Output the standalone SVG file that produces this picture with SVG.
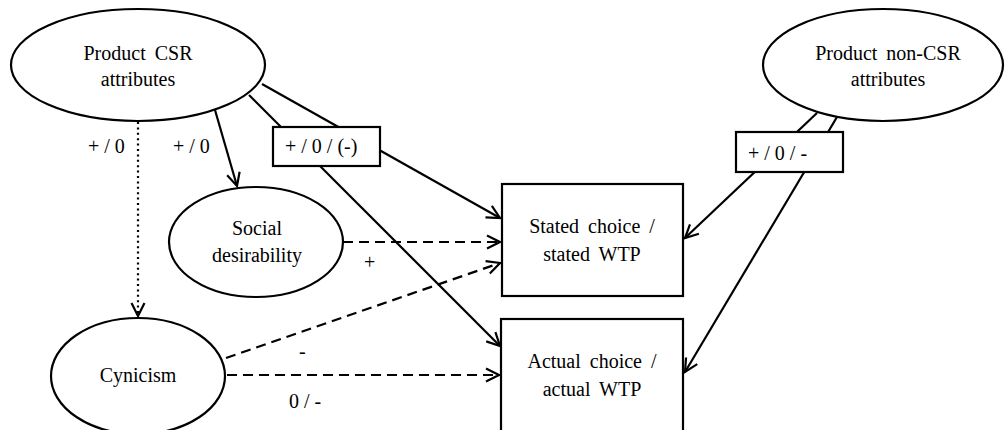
<svg xmlns="http://www.w3.org/2000/svg" width="1005" height="430" viewBox="0 0 1005 430">
<style>
.n{fill:#fff;stroke:#000;stroke-width:2.2}
.t{font-family:'Liberation Serif','Times New Roman',Times,serif;font-size:20px;fill:#000;text-anchor:middle;word-spacing:4px}
.l{font-family:'Liberation Serif','Times New Roman',Times,serif;font-size:20px;fill:#000}
.c{fill:none;stroke:#000;stroke-width:2.2}
.dash{stroke-dasharray:10,6}
.dot{stroke-dasharray:2,3.4}
</style>
<defs>
<marker id="arr" markerUnits="userSpaceOnUse" markerWidth="16" markerHeight="16" viewBox="-14 -8 16 16" refX="0" refY="0" orient="auto">
<path d="M-13,-6.5 L0,0 L-13,6.5" fill="none" stroke="#000" stroke-width="2.2"/>
</marker>
</defs>
<rect width="1005" height="430" fill="#fff"/>
<g id="connectors">
<line class="c dot" x1="138" y1="122" x2="138" y2="316" marker-end="url(#arr)"/>
<line class="c" x1="215" y1="110" x2="237" y2="186" marker-end="url(#arr)"/>
<line class="c" x1="249" y1="95" x2="500" y2="346" marker-end="url(#arr)"/>
<line class="c" x1="262" y1="84" x2="500" y2="218" marker-end="url(#arr)"/>
<line class="c dash" x1="343" y1="242" x2="500" y2="242" marker-end="url(#arr)"/>
<line class="c dash" x1="226" y1="358" x2="500" y2="263" marker-end="url(#arr)"/>
<line class="c dash" x1="227" y1="375" x2="499" y2="375" marker-end="url(#arr)"/>
<line class="c" x1="817" y1="113" x2="685" y2="238" marker-end="url(#arr)"/>
<line class="c" x1="837" y1="117" x2="685" y2="372" marker-end="url(#arr)"/>
<rect class="n" x="273" y="127" width="107" height="39"/>
<text class="l" x="285" y="153" font-family="Liberation Serif, serif">+ / 0 / (-)</text>
<rect class="n" x="736" y="132" width="107" height="40"/>
<text class="l" x="748" y="160">+ / 0 / -</text>
<text class="l" x="88" y="153">+ / 0</text>
<text class="l" x="173" y="153">+ / 0</text>
<text class="l" x="364" y="269">+</text>
<text class="l" x="299" y="358">-</text>
<text class="l" x="289" y="408">0 / -</text>
</g>
<g id="product-csr">
<ellipse class="n" cx="138" cy="65" rx="127" ry="56"/>
<text class="t" x="138" y="60">Product CSR</text>
<text class="t" x="138" y="86">attributes</text>
</g>
<g id="social-desirability">
<ellipse class="n" cx="256" cy="242" rx="87" ry="55"/>
<text class="t" x="257" y="235">Social</text>
<text class="t" x="257" y="262">desirability</text>
</g>
<g id="cynicism">
<ellipse class="n" cx="138" cy="376" rx="87" ry="58"/>
<text class="t" x="138" y="382">Cynicism</text>
</g>
<g id="product-non-csr">
<ellipse class="n" cx="883" cy="65" rx="120" ry="56"/>
<text class="t" x="888" y="60">Product non-CSR</text>
<text class="t" x="888" y="86">attributes</text>
</g>
<g id="stated-choice">
<rect class="n" x="502" y="184" width="181" height="112"/>
<text class="t" x="592" y="233">Stated choice /</text>
<text class="t" x="592" y="261">stated WTP</text>
</g>
<g id="actual-choice">
<rect class="n" x="501" y="319" width="182" height="125"/>
<text class="t" x="592" y="368">Actual choice /</text>
<text class="t" x="592" y="396">actual WTP</text>
</g>
</svg>
